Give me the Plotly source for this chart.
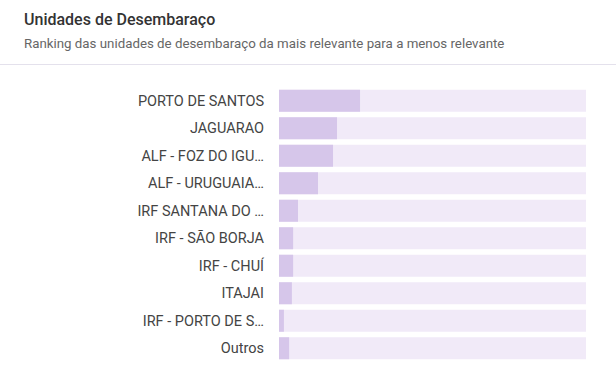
import plotly.graph_objects as go

categories = ["PORTO DE SANTOS", "JAGUARAO", "ALF - FOZ DO IGU…", "ALF - URUGUAIA…",
              "IRF SANTANA DO …", "IRF - SÃO BORJA", "IRF - CHUÍ", "ITAJAI",
              "IRF - PORTO DE S…", "Outros"]
values = [26.4, 18.9, 17.6, 12.7, 6.2, 4.6, 4.6, 4.2, 1.6, 3.3]
max_value = 100
background = [max_value] * len(categories)

L, R, T, B = 279, 30, 87, 7
W, H = 616, 369
PW, PH = W - L - R, H - T - B


def px_x(x):
    return (x - L) / PW


def px_y(y):
    return (H - B - y) / PH


FONT = "Roboto, Inter, sans-serif"

fig = go.Figure()
fig.add_trace(go.Bar(y=categories, x=background, orientation="h",
                     marker=dict(color="#f1eaf8", line=dict(width=0)),
                     hoverinfo="skip", showlegend=False))
fig.add_trace(go.Bar(y=categories, x=values, orientation="h",
                     marker=dict(color="#d6c6ea", line=dict(width=0)),
                     showlegend=False))

fig.update_layout(
    width=W, height=H,
    barmode="overlay", bargap=0.2,
    margin=dict(l=L, r=R, t=T, b=B),
    paper_bgcolor="white", plot_bgcolor="white",
    font=dict(family=FONT, color="#444"),
    xaxis=dict(visible=False, range=[0, max_value], fixedrange=True),
    yaxis=dict(autorange="reversed", showgrid=False, zeroline=False, showline=False,
               ticks="", ticklabelstandoff=14,
               tickfont=dict(size=14.5, color="#444", family=FONT)),
    annotations=[
        dict(text="Unidades de Desembaraço", xref="paper", yref="paper",
             x=px_x(22), y=px_y(8), xanchor="left", yanchor="top", showarrow=False,
             font=dict(size=16, color="#333", family=FONT, weight=500)),
        dict(text="Ranking das unidades de desembaraço da mais relevante para a menos relevante",
             xref="paper", yref="paper",
             x=px_x(22), y=px_y(34), xanchor="left", yanchor="top", showarrow=False,
             font=dict(size=13.3, color="#666", family=FONT)),
    ],
    shapes=[dict(type="line", xref="paper", yref="paper",
                 x0=px_x(0), x1=px_x(W), y0=px_y(64.5), y1=px_y(64.5),
                 line=dict(color="#e4e1ec", width=1))],
)

fig.write_html("out.html", config={"displayModeBar": False},
               post_script="document.body.style.margin='0';")
